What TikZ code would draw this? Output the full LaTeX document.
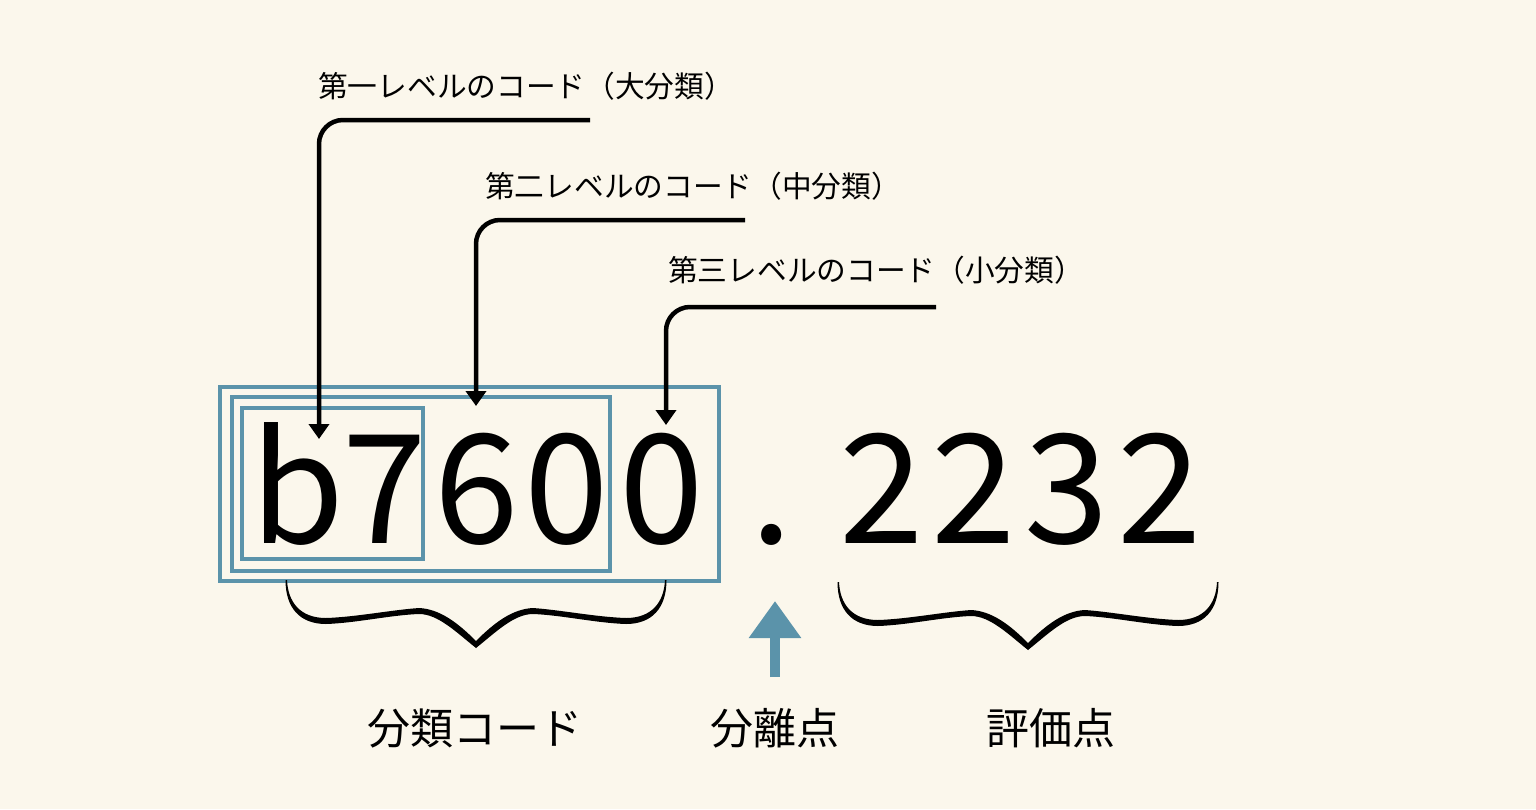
\documentclass[tikz,border=0pt]{standalone}
\usepackage{fontspec}
\setmainfont{Noto Sans CJK JP}
\usepackage{tikz}
\usetikzlibrary{arrows.meta}
\definecolor{paper}{HTML}{FBF7EC}
\definecolor{codeblue}{HTML}{5B93AA}
\tikzset{
% big characters of the code and small labels
digit/.style={anchor=base,inner sep=0,font=\fontsize{152}{152}\selectfont},
lvl label/.style={anchor=west,inner sep=0,font=\fontsize{29.7}{30}\selectfont},
part label/.style={inner sep=0,font=\fontsize{43}{43}\selectfont},
% boxes, pointers and braces
code box/.style={draw=codeblue,line width=3.5pt},
pointer/.style={line width=4.5pt,rounded corners=24pt,-{Triangle[width=20pt,length=15pt]}},
curly/.pic={
\foreach \s in {1,-1}{
\fill[black,xscale=\s] (0,61) .. controls (18,43) and (36,29) .. (57,28) .. controls (85,30) and (120,37) .. (150,38) .. controls (176,38) and (188,22) .. (189,0) -- (190.5,0) .. controls (190.5,28) and (176,44) .. (150,44) .. controls (120,43) and (85,35) .. (57,34) .. controls (38,34) and (20,52) .. (0,68) -- cycle;
}}
}
\begin{document}
\begin{tikzpicture}[x=1pt,y=-1pt]
\fill[paper] (0,0) rectangle (1536,809);
% the code b7600.2232
\node[digit](b) at (297,543){b};
\node[digit](n7) at (385,543){7};
\node[digit](n6) at (477,543){6};
\node[digit](n0a) at (567,543){0};
\node[digit](n0b) at (662,543){0};
\node[digit](dot) at (772,543){.};
\node[digit](e1) at (882,543){2};
\node[digit](e2) at (974,543){2};
\node[digit](e3) at (1067,543){3};
\node[digit](e4) at (1160,543){2};
% nested boxes for the three levels
\draw[code box] (242,408) rectangle (423,559);
\draw[code box] (232,397) rectangle (610,571);
\draw[code box] (220,387) rectangle (719,581);
% level labels
\node[lvl label](l1) at (318,86){第一レベルのコード（大分類）};
\node[lvl label](l2) at (485,186){第二レベルのコード（中分類）};
\node[lvl label](l3) at (668,270){第三レベルのコード（小分類）};
\coordinate(s1) at (590,120);
\coordinate(t1) at (319,439);
\coordinate(s2) at (745,220);
\coordinate(t2) at (476,406);
\coordinate(s3) at (936,307);
\coordinate(t3) at (666,425);
\draw[pointer] (s1) -| (t1);
\draw[pointer] (s2) -| (t2);
\draw[pointer] (s3) -| (t3);
% braces
\pic at (476,580) {curly};
\pic at (1028,582) {curly};
% separator arrow
\coordinate(a0) at (775,677);
\coordinate(a1) at (775,601);
\draw[codeblue,line width=10pt,-{Triangle[width=50pt,length=37pt]}] (a0) -- (a1);
% part labels
\node[part label](cls) at (475,728){分類コード};
\node[part label](sep) at (775,728){分離点};
\node[part label](val) at (1051,728){評価点};
\end{tikzpicture}
\end{document}
